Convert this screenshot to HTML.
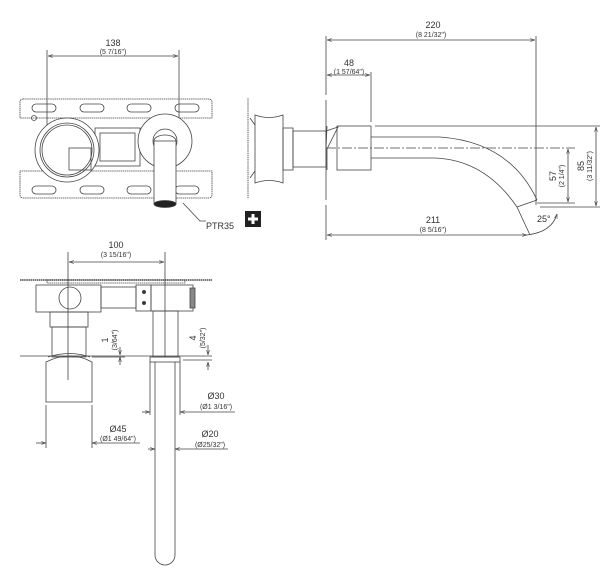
<!DOCTYPE html>
<html><head><style>
html,body{margin:0;padding:0;background:#fff;}
svg{display:block;}
text{font-family:"Liberation Sans",sans-serif;fill:#333;}
.t{font-size:9px;}
.s{font-size:7px;}
</style></head><body>
<svg width="612" height="585" viewBox="0 0 612 585" xmlns="http://www.w3.org/2000/svg">
<defs>
<marker id="a" viewBox="0 0 10 10" refX="10" refY="5" markerWidth="6" markerHeight="6" orient="auto-start-reverse"><path d="M0,2 L10,5 L0,8" fill="none" stroke="#444" stroke-width="1.2"/></marker>
</defs>
<g stroke="#444" stroke-width="0.8" fill="none">
<!-- TOP LEFT: front view -->
<line x1="47" y1="50" x2="47" y2="160"/>
<line x1="179" y1="50" x2="179" y2="140"/>
<line x1="48" y1="56" x2="178" y2="56" marker-start="url(#a)" marker-end="url(#a)"/>
<path d="M23,99 h186 a3,3 0 0 1 3,3 v16 h-192 v-16 a3,3 0 0 1 3,-3z" stroke-dasharray="1.5,0.6"/>
<path d="M23,198 h186 a3,3 0 0 0 3,-3 v-24 h-192 v24 a3,3 0 0 0 3,3z" stroke-dasharray="1.5,0.6"/>
<rect x="32" y="104" width="24" height="8" rx="4"/><rect x="80" y="104" width="24" height="8" rx="4"/><rect x="127" y="104" width="24" height="8" rx="4"/><rect x="175" y="104" width="24" height="8" rx="4"/>
<rect x="32" y="186" width="24" height="8" rx="4"/><rect x="80" y="186" width="24" height="8" rx="4"/><rect x="127" y="186" width="24" height="8" rx="4"/><rect x="175" y="186" width="24" height="8" rx="4"/>
<circle cx="34" cy="118" r="2.5"/>
<rect x="95" y="128" width="45" height="38"/>
<rect x="100" y="133" width="35" height="28"/>
<circle cx="67" cy="150" r="32" fill="#fff"/>
<circle cx="67" cy="150" r="27"/>
<circle cx="67" cy="150" r="25"/>
<rect x="69" y="148" width="22" height="22"/>
<circle cx="165" cy="141" r="27" fill="#fff"/>
<circle cx="165" cy="141" r="12"/>
<rect x="154" y="141" width="22" height="63" fill="#fff"/>
<path d="M154,141 a11,6 0 0 1 22,0"/>
<ellipse cx="165" cy="204" rx="11" ry="3.5" fill="#222"/>
<path d="M183,203 L200,221 h6"/>
<!-- side view -->
<line x1="248" y1="98" x2="248" y2="198" stroke-dasharray="1.5,0.6"/>
<path d="M250,118 L255,125 M250,178 L255,171"/>
<path d="M255,115 q14,5 28,0 v68 q-14,-5 -28,0z"/>
<rect x="283" y="128" width="10" height="42"/>
<rect x="293" y="131" width="33" height="36"/>
<!-- RIGHT spout -->
<line x1="326" y1="36" x2="326" y2="95"/>
<line x1="326" y1="100" x2="326" y2="200"/>
<line x1="326" y1="205" x2="326" y2="240"/>
<line x1="536" y1="36" x2="536" y2="205"/>
<line x1="327" y1="40" x2="535" y2="40" marker-start="url(#a)" marker-end="url(#a)"/>
<line x1="371" y1="72" x2="371" y2="122"/>
<line x1="327" y1="75" x2="370" y2="75" marker-start="url(#a)" marker-end="url(#a)"/>
<path d="M326,131 L338,127 L327,149 L327,170"/>
<rect x="337" y="126" width="34" height="44"/>
<path d="M326,149 L327,126"/>
<line x1="375" y1="126" x2="600" y2="126"/>
<path d="M371,137 H440 Q510,142 537,200"/>
<path d="M371,158 H435 Q485,160 517,207"/>
<path d="M517,207 L537,200"/>
<line x1="326" y1="148" x2="575" y2="148" stroke-dasharray="10,2,2,2"/>
<line x1="537" y1="203" x2="575" y2="203"/>
<line x1="540" y1="207" x2="600" y2="207"/>
<line x1="568" y1="149" x2="568" y2="202" marker-start="url(#a)" marker-end="url(#a)"/>
<line x1="596" y1="127" x2="596" y2="206" marker-start="url(#a)" marker-end="url(#a)"/>
<line x1="327" y1="235" x2="527" y2="235" marker-start="url(#a)" marker-end="url(#a)"/>
<line x1="517" y1="207" x2="530" y2="235"/>
<path d="M527,235 Q552,232 557,214" marker-end="url(#a)"/>
<!-- BOTTOM LEFT -->
<line x1="68" y1="252" x2="68" y2="380"/>
<line x1="165" y1="252" x2="165" y2="357"/>
<line x1="69" y1="262" x2="164" y2="262" marker-start="url(#a)" marker-end="url(#a)"/>
<line x1="20" y1="280" x2="212" y2="280" stroke-dasharray="1.5,0.6" stroke-width="1.4"/>
<rect x="47" y="280" width="138" height="3" stroke-dasharray="1.5,0.6"/>
<rect x="36" y="285" width="65" height="27"/>
<circle cx="70" cy="298" r="11"/>
<rect x="101" y="287" width="35" height="21"/>
<rect x="136" y="285" width="15" height="26"/>
<circle cx="144" cy="292" r="1.6" fill="#333"/><circle cx="144" cy="303" r="1.6" fill="#333"/>
<rect x="151" y="285" width="42" height="26"/>
<rect x="190" y="288" width="5" height="20" fill="#888"/>
<rect x="50" y="312" width="38" height="15"/>
<rect x="52" y="327" width="34" height="30"/>
<line x1="20" y1="356" x2="212" y2="356"/>
<path d="M46,402 V362 Q70,350 92,362 V402 Z"/>
<path d="M48,357 Q70,350 90,357"/>
<line x1="46" y1="405" x2="46" y2="448"/><line x1="92" y1="405" x2="92" y2="448"/>
<line x1="36" y1="443" x2="46" y2="443" marker-end="url(#a)"/>
<line x1="92" y1="443" x2="140" y2="443" marker-start="url(#a)"/>
<rect x="153" y="311" width="25" height="46"/>
<rect x="150" y="357" width="30" height="5"/>
<line x1="150" y1="362" x2="150" y2="415"/><line x1="180" y1="362" x2="180" y2="415"/>
<path d="M155,362 V555 a10,10 0 0 0 20,0 V362"/>
<line x1="142" y1="412" x2="150" y2="412" marker-end="url(#a)"/>
<line x1="180" y1="412" x2="235" y2="412" marker-start="url(#a)"/>
<line x1="148" y1="449" x2="155" y2="449" marker-end="url(#a)"/>
<line x1="175" y1="449" x2="228" y2="449" marker-start="url(#a)"/>
<line x1="120" y1="347" x2="120" y2="355" marker-end="url(#a)"/>
<line x1="120" y1="365" x2="120" y2="357" marker-end="url(#a)"/>
<line x1="92" y1="357" x2="125" y2="357"/>
<line x1="183" y1="360" x2="212" y2="360"/>
<line x1="208" y1="345" x2="208" y2="355" marker-end="url(#a)"/>
<line x1="208" y1="370" x2="208" y2="362" marker-end="url(#a)"/>
</g>
<!-- texts -->
<text class="t" x="113" y="46" text-anchor="middle">138</text>
<text class="s" x="113" y="54" text-anchor="middle">(5 7/16")</text>
<text class="t" x="206" y="229">PTR35</text>
<rect x="245" y="211" width="16" height="16" fill="#222"/>
<path d="M253,214 v10 M248,219 h10" stroke="#fff" stroke-width="3"/>
<text class="t" x="433" y="28" text-anchor="middle">220</text>
<text class="s" x="431" y="37" text-anchor="middle">(8 21/32")</text>
<text class="t" x="349" y="66" text-anchor="middle">48</text>
<text class="s" x="349" y="74" text-anchor="middle">(1 57/64")</text>
<text class="t" x="433" y="223" text-anchor="middle">211</text>
<text class="s" x="433" y="232" text-anchor="middle">(8 5/16")</text>
<text class="t" x="537" y="222">25°</text>
<text class="t" transform="translate(556,176) rotate(-90)" text-anchor="middle">57</text>
<text class="s" transform="translate(564,176) rotate(-90)" text-anchor="middle">(2 1/4")</text>
<text class="t" transform="translate(584,166) rotate(-90)" text-anchor="middle">85</text>
<text class="s" transform="translate(592,166) rotate(-90)" text-anchor="middle">(3 11/32")</text>
<text class="t" x="116" y="248" text-anchor="middle">100</text>
<text class="s" x="116" y="257" text-anchor="middle">(3 15/16")</text>
<text class="t" transform="translate(108,340) rotate(-90)" text-anchor="middle">1</text>
<text class="s" transform="translate(117,340) rotate(-90)" text-anchor="middle">(3/64")</text>
<text class="t" transform="translate(196,338) rotate(-90)" text-anchor="middle">4</text>
<text class="s" transform="translate(205,338) rotate(-90)" text-anchor="middle">(5/32")</text>
<text class="t" x="216" y="399" text-anchor="middle">Ø30</text>
<text class="s" x="216" y="409" text-anchor="middle">(Ø1 3/16")</text>
<text class="t" x="118" y="432" text-anchor="middle">Ø45</text>
<text class="s" x="118" y="441" text-anchor="middle">(Ø1 49/64")</text>
<text class="t" x="210" y="437" text-anchor="middle">Ø20</text>
<text class="s" x="210" y="447" text-anchor="middle">(Ø25/32")</text>
</svg>
</body></html>
